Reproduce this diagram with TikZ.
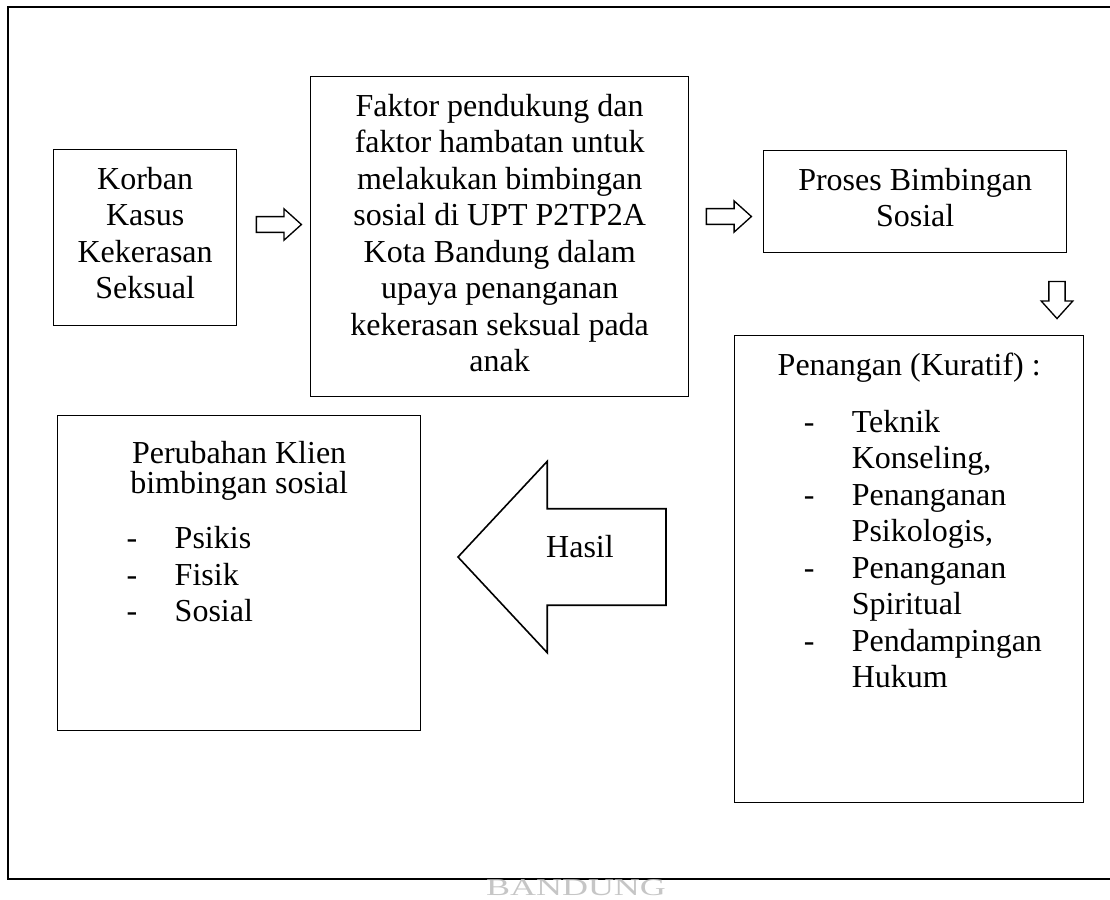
\documentclass[tikz,border=0pt]{standalone}
\usepackage{fontspec}
\setmainfont{Liberation Serif}
\usetikzlibrary{shapes.arrows}
\tikzset{
    flowbox/.style={draw, line width=0.5pt, inner sep=0pt, anchor=north west},
    smallarrow/.style={draw, line width=0.5pt, single arrow, single arrow tip angle=84,
        single arrow head extend=2.9pt, inner xsep=0pt, inner ysep=2.7pt, minimum height=16.9pt},
    bigarrow/.style={draw, line width=0.6pt, single arrow, single arrow tip angle=94,
        single arrow head extend=17.8pt, inner xsep=0pt, inner ysep=17.8pt, minimum height=78pt},
}
\newcommand{\boxtext}[4][5.2pt]{\begin{minipage}[c][#3][t]{#2}\centering\vspace*{#1}\strut#4\end{minipage}}
\newcommand{\itemlist}{\par\raggedright\leftskip=43.9pt\relax}
\newcommand{\itm}[1]{\par\noindent\llap{\makebox[18pt][l]{-}}#1}

\begin{document}
\begin{tikzpicture}[x=0.375pt, y=-0.375pt, font=\fontsize{12}{13.7}\selectfont]
    \useasboundingbox (0,0) rectangle (1110,899);
    \draw[line width=0.75pt] (1125,7) -- (8,7) -- (8,879) -- (1125,879);

    \node[flowbox] (korban) at (53,149) {\boxtext{68.6pt}{66pt}{Korban\\Kasus\\Kekerasan\\Seksual}};
    \node[flowbox] (faktor) at (310,76) {\boxtext{141.75pt}{120pt}{Faktor pendukung dan\\faktor hambatan untuk\\melakukan bimbingan\\sosial di UPT P2TP2A\\Kota Bandung dalam\\upaya penanganan\\kekerasan seksual pada\\anak}};
    \node[flowbox] (proses) at (763,150) {\boxtext{113.6pt}{38.25pt}{Proses Bimbingan\\Sosial}};
    \node[flowbox] (penangan) at (734,335) {\boxtext{130.9pt}{175.1pt}{Penangan (Kuratif) :\par\vspace{7.7pt}
        \itemlist
        \itm{Teknik\\Konseling,}
        \itm{Penanganan\\Psikologis,}
        \itm{Penanganan\\Spiritual}
        \itm{Pendampingan\\Hukum}}};
    \node[flowbox] (perubahan) at (57,415) {\boxtext[8.4pt]{136.1pt}{118.1pt}{\fontsize{12}{11.25}\selectfont\lineskiplimit=-20pt
        Perubahan Klien\\bimbingan sosial\par
        \fontsize{12}{13.7}\selectfont\vspace{6.9pt}
        \itemlist
        \itm{Psikis}
        \itm{Fisik}
        \itm{Sosial}}};

    \node[smallarrow] (arrA) at (274.5,224.5) {};
    \node[smallarrow] (arrB) at (724.5,216.5) {};
    \node[smallarrow, shape border rotate=270, inner xsep=2.8pt, inner ysep=0pt, minimum height=13.9pt] (arrC) at (1057,295.5) {};
    \node[bigarrow, shape border rotate=180] (hasil) at (584.5,557) {};
    \node[anchor=base, inner sep=0pt] (hasiltext) at (580,557) {Hasil};

    \node[anchor=south, inner sep=0pt, text=gray!45, xscale=1.5, font=\fontsize{9}{9}\selectfont] (watermark) at (576,896) {BANDUNG};
\end{tikzpicture}
\end{document}
